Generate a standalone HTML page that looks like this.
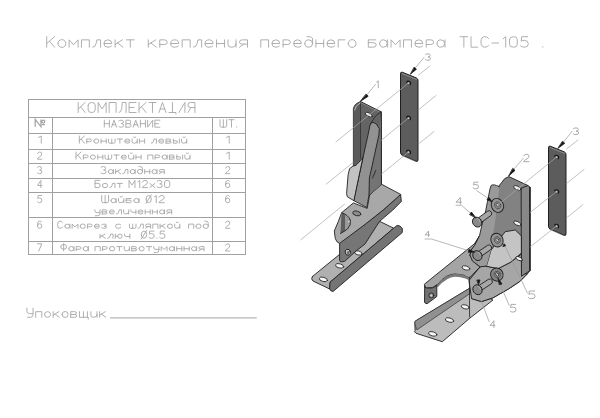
<!DOCTYPE html>
<html><head><meta charset="utf-8">
<style>
html,body{margin:0;padding:0;background:#fff;width:600px;height:418px;overflow:hidden}
svg{display:block;filter:blur(0.3px)}
</style></head><body>
<svg width="600" height="418" viewBox="0 0 600 418">
<rect width="600" height="418" fill="#fff"/>
<g stroke="#a0a0a0" stroke-width="1" fill="none" shape-rendering="crispEdges">
<rect x="28.5" y="99.5" width="217" height="155"/>
<path d="M28,117.5H246M28,133.5H246M28,149.5H246M28,163.5H246M28,178.5H246M28,192.5H246M28,217.5H246M28,241.5H246M52.5,117V255M212.5,117V255"/>
</g>
<g fill="none" stroke="#a4a4a4" stroke-width="1.25"><path d="M 35.20,126.80 L 35.20,119.40 L 40.96,126.80 L 40.96,119.40 M 41.92,121.62 A 1.44,1.48 0 1,0 44.80,121.62 A 1.44,1.48 0 1,0 41.92,121.62 M 41.92,124.58 L 44.80,124.58"/></g><g fill="none" stroke="#a6a6a6" stroke-width="0.9" stroke-linecap="round" stroke-linejoin="round">
<path d="M 46.70,36.70 L 46.70,47.20 M 54.55,36.70 L 46.70,43.53 M 49.50,41.22 L 54.55,47.20 M 57.92,43.53 A 3.93,3.68 0 1,0 65.77,43.53 A 3.93,3.68 0 1,0 57.92,43.53 M 69.14,47.20 L 69.14,39.85 L 73.62,44.75 L 78.11,39.85 L 78.11,47.20 M 81.48,47.20 L 81.48,39.85 L 89.33,39.85 L 89.33,47.20 M 92.69,47.20 Q 95.50,47.20 96.06,43.53 L 96.96,39.85 L 100.55,39.85 L 100.55,47.20 M 104.14,43.53 L 111.76,43.53 Q 111.76,39.85 107.84,39.85 Q 103.91,39.85 103.91,43.53 Q 103.91,47.20 107.84,47.20 Q 110.64,47.20 111.54,45.98 M 115.13,39.85 L 115.13,47.20 M 122.42,39.85 L 115.13,44.51 M 117.60,42.91 L 122.98,47.20 M 126.35,39.85 L 134.20,39.85 M 130.27,39.85 L 130.27,47.20"/>
<path d="M 148.30,39.85 L 148.30,47.20 M 155.75,39.85 L 148.30,44.51 M 150.82,42.91 L 156.33,47.20 M 159.77,47.20 L 159.77,39.85 L 164.36,39.85 Q 167.22,39.85 167.22,42.30 Q 167.22,44.51 164.36,44.51 L 159.77,44.51 M 170.89,43.53 L 178.69,43.53 Q 178.69,39.85 174.68,39.85 Q 170.66,39.85 170.66,43.53 Q 170.66,47.20 174.68,47.20 Q 177.54,47.20 178.46,45.98 M 182.13,47.20 L 182.13,39.85 L 190.16,39.85 L 190.16,47.20 M 193.60,47.20 Q 196.47,47.20 197.04,43.53 L 197.96,39.85 L 201.63,39.85 L 201.63,47.20 M 205.30,43.53 L 213.10,43.53 Q 213.10,39.85 209.08,39.85 Q 205.07,39.85 205.07,43.53 Q 205.07,47.20 209.08,47.20 Q 211.95,47.20 212.87,45.98 M 216.54,39.85 L 216.54,47.20 M 216.54,43.53 L 224.56,43.53 M 224.56,39.85 L 224.56,47.20 M 228.00,39.85 L 228.00,44.75 Q 228.00,47.20 231.44,47.20 Q 236.03,47.20 236.03,43.53 M 236.03,39.85 L 236.03,47.20 M 247.50,47.20 L 247.50,39.85 L 242.34,39.85 Q 239.47,39.85 239.47,42.05 Q 239.47,44.14 242.34,44.14 L 247.50,44.14 M 243.49,44.14 L 239.47,47.20"/>
<path d="M 260.80,47.20 L 260.80,39.85 L 268.59,39.85 L 268.59,47.20 M 272.16,43.53 L 279.73,43.53 Q 279.73,39.85 275.83,39.85 Q 271.93,39.85 271.93,43.53 Q 271.93,47.20 275.83,47.20 Q 278.62,47.20 279.51,45.98 M 283.07,47.20 L 283.07,39.85 L 287.52,39.85 Q 290.31,39.85 290.31,42.30 Q 290.31,44.51 287.52,44.51 L 283.07,44.51 M 293.87,43.53 L 301.44,43.53 Q 301.44,39.85 297.54,39.85 Q 293.65,39.85 293.65,43.53 Q 293.65,47.20 297.54,47.20 Q 300.33,47.20 301.22,45.98 M 304.78,43.53 A 3.90,3.68 0 1,0 312.58,43.53 A 3.90,3.68 0 1,0 304.78,43.53 M 312.58,43.53 L 312.58,39.06 Q 312.58,36.70 308.12,36.70 L 307.01,36.70 M 315.92,39.85 L 315.92,47.20 M 315.92,43.53 L 323.71,43.53 M 323.71,39.85 L 323.71,47.20 M 327.27,43.53 L 334.84,43.53 Q 334.84,39.85 330.95,39.85 Q 327.05,39.85 327.05,43.53 Q 327.05,47.20 330.95,47.20 Q 333.73,47.20 334.62,45.98 M 344.87,39.85 L 338.18,39.85 L 338.18,47.20 M 348.21,43.53 A 3.90,3.68 0 1,0 356.00,43.53 A 3.90,3.68 0 1,0 348.21,43.53"/>
<path d="M 375.69,39.85 L 368.30,39.85 L 368.30,47.20 L 372.85,47.20 Q 376.25,47.20 376.25,44.87 Q 376.25,42.67 372.85,42.67 L 368.30,42.67 M 379.66,43.53 A 3.75,3.68 0 1,0 387.16,43.53 A 3.75,3.68 0 1,0 379.66,43.53 M 387.62,39.85 L 387.62,47.20 M 391.03,47.20 L 391.03,39.85 L 395.57,44.75 L 400.12,39.85 L 400.12,47.20 M 403.53,47.20 L 403.53,39.85 L 411.48,39.85 L 411.48,47.20 M 415.12,43.53 L 422.84,43.53 Q 422.84,39.85 418.87,39.85 Q 414.89,39.85 414.89,43.53 Q 414.89,47.20 418.87,47.20 Q 421.71,47.20 422.61,45.98 M 426.25,47.20 L 426.25,39.85 L 430.80,39.85 Q 433.64,39.85 433.64,42.30 Q 433.64,44.51 430.80,44.51 L 426.25,44.51 M 437.05,43.53 A 3.75,3.68 0 1,0 444.55,43.53 A 3.75,3.68 0 1,0 437.05,43.53 M 445.00,39.85 L 445.00,47.20"/>
<path d="M 460.00,36.70 L 467.71,36.70 M 463.86,36.70 L 463.86,47.20 M 471.02,36.70 L 471.02,47.20 L 477.63,47.20 M 488.64,38.48 Q 487.54,36.70 484.79,36.70 Q 480.93,36.70 480.93,41.95 Q 480.93,47.20 484.79,47.20 Q 487.54,47.20 488.64,45.42 M 491.95,43.00 L 498.56,43.00 M 502.96,38.80 L 505.72,36.70 L 505.72,47.20 M 509.57,39.33 L 509.57,44.58 Q 509.57,47.20 513.43,47.20 Q 517.28,47.20 517.28,44.58 L 517.28,39.33 Q 517.28,36.70 513.43,36.70 Q 509.57,36.70 509.57,39.33 M 527.75,36.70 L 521.69,36.70 L 521.14,41.11 Q 522.79,40.38 524.44,40.38 Q 528.30,40.38 528.30,43.84 Q 528.30,47.20 524.44,47.20 Q 521.69,47.20 520.59,45.94"/>
<path d="M 542.60,46.89 L 543.00,46.89"/>
<path d="M 78.20,102.50 L 78.20,112.50 M 85.18,102.50 L 78.20,109.00 M 80.69,106.80 L 85.18,112.50 M 88.17,105.00 L 88.17,110.00 Q 88.17,112.50 91.67,112.50 Q 95.16,112.50 95.16,110.00 L 95.16,105.00 Q 95.16,102.50 91.67,102.50 Q 88.17,102.50 88.17,105.00 M 98.15,112.50 L 98.15,102.50 L 102.14,109.00 L 106.13,102.50 L 106.13,112.50 M 109.12,112.50 L 109.12,102.50 L 116.10,102.50 L 116.10,112.50 M 119.09,112.50 Q 121.29,112.50 121.69,108.50 L 122.29,102.50 L 126.08,102.50 L 126.08,112.50 M 136.05,102.50 L 129.07,102.50 L 129.07,112.50 L 136.05,112.50 M 129.07,107.50 L 134.06,107.50 M 139.04,102.50 L 139.04,112.50 M 146.03,102.50 L 139.04,109.00 M 141.54,106.80 L 146.03,112.50 M 149.02,102.50 L 156.00,102.50 M 152.51,102.50 L 152.51,112.50 M 158.99,112.50 L 162.48,102.50 L 165.97,112.50 M 160.19,109.00 L 164.78,109.00 M 172.46,102.50 L 172.46,112.50 M 168.97,112.50 L 175.95,112.50 L 175.95,114.00 M 178.94,112.50 L 184.93,102.50 L 184.93,112.50 M 194.90,112.50 L 194.90,102.50 L 190.41,102.50 Q 187.92,102.50 187.92,105.00 Q 187.92,107.50 190.41,107.50 L 194.90,107.50 M 190.91,107.50 L 187.92,112.50"/>
<path d="M 104.30,120.20 L 104.30,127.20 M 104.30,123.70 L 109.35,123.70 M 109.35,120.20 L 109.35,127.20 M 111.52,127.20 L 114.05,120.20 L 116.58,127.20 M 112.39,124.75 L 115.71,124.75 M 118.74,120.90 Q 119.46,120.20 121.27,120.20 Q 123.44,120.20 123.44,121.95 Q 123.44,123.56 121.27,123.56 Q 123.80,123.56 123.80,125.38 Q 123.80,127.20 121.27,127.20 Q 119.46,127.20 118.74,126.50 M 125.96,127.20 L 125.96,120.20 L 129.21,120.20 Q 130.66,120.20 130.66,121.95 Q 130.66,123.70 129.21,123.70 L 125.96,123.70 M 129.21,123.70 Q 131.02,123.70 131.02,125.45 Q 131.02,127.20 129.21,127.20 L 125.96,127.20 M 133.18,127.20 L 135.71,120.20 L 138.24,127.20 M 134.05,124.75 L 137.37,124.75 M 140.40,120.20 L 140.40,127.20 M 140.40,123.70 L 145.46,123.70 M 145.46,120.20 L 145.46,127.20 M 147.62,120.20 L 147.62,127.20 L 152.68,120.20 L 152.68,127.20 M 159.90,120.20 L 154.85,120.20 L 154.85,127.20 L 159.90,127.20 M 154.85,123.70 L 158.46,123.70"/>
<path d="M 220.00,119.70 L 220.00,125.70 Q 220.00,127.20 221.48,127.20 L 225.17,127.20 Q 226.65,127.20 226.65,125.70 L 226.65,119.70 M 223.33,119.70 L 223.33,127.20 M 228.87,119.70 L 234.04,119.70 M 231.46,119.70 L 231.46,127.20 M 236.48,126.98 L 236.78,126.98"/>
<path d="M 79.30,136.00 L 79.30,143.20 M 84.47,136.00 L 79.30,140.68 M 81.15,139.10 L 84.47,143.20 M 86.68,143.20 L 86.68,139.02 L 89.63,139.02 Q 91.48,139.02 91.48,140.42 Q 91.48,141.67 89.63,141.67 L 86.68,141.67 M 93.69,141.11 A 2.58,2.09 0 1,0 98.86,141.11 A 2.58,2.09 0 1,0 93.69,141.11 M 101.08,139.02 L 101.08,143.20 M 101.08,141.11 L 106.24,141.11 M 106.24,139.02 L 106.24,143.20 M 108.46,139.02 L 108.46,141.81 Q 108.46,143.20 109.93,143.20 L 113.62,143.20 Q 115.10,143.20 115.10,141.81 L 115.10,139.02 M 111.78,139.02 L 111.78,143.20 M 117.31,139.02 L 122.48,139.02 M 119.90,139.02 L 119.90,143.20 M 124.84,141.11 L 129.86,141.11 Q 129.86,139.02 127.28,139.02 Q 124.70,139.02 124.70,141.11 Q 124.70,143.20 127.28,143.20 Q 129.12,143.20 129.72,142.50 M 132.08,139.02 L 132.08,141.81 Q 132.08,143.20 134.29,143.20 Q 137.24,143.20 137.24,141.11 M 137.24,139.02 L 137.24,143.20 M 133.55,137.13 Q 134.66,138.27 135.77,137.13 M 139.46,139.02 L 139.46,143.20 M 139.46,141.11 L 144.63,141.11 M 144.63,139.02 L 144.63,143.20 M 151.27,143.20 Q 153.11,143.20 153.48,141.11 L 154.07,139.02 L 156.44,139.02 L 156.44,143.20 M 158.80,141.11 L 163.82,141.11 Q 163.82,139.02 161.23,139.02 Q 158.65,139.02 158.65,141.11 Q 158.65,143.20 161.23,143.20 Q 163.08,143.20 163.67,142.50 M 166.03,143.20 L 166.03,139.02 L 169.35,139.02 Q 170.83,139.02 170.83,140.07 Q 170.83,141.11 169.35,141.11 L 166.03,141.11 M 169.35,141.11 Q 171.20,141.11 171.20,142.16 Q 171.20,143.20 169.35,143.20 L 166.03,143.20 M 173.41,139.02 L 173.41,143.20 L 176.00,143.20 Q 177.47,143.20 177.47,141.95 Q 177.47,140.76 176.00,140.76 L 173.41,140.76 M 179.32,139.02 L 179.32,143.20 M 181.53,139.02 L 181.53,141.81 Q 181.53,143.20 183.75,143.20 Q 186.70,143.20 186.70,141.11 M 186.70,139.02 L 186.70,143.20 M 183.01,137.13 Q 184.12,138.27 185.22,137.13"/>
<path d="M 76.00,152.00 L 76.00,159.20 M 81.15,152.00 L 76.00,156.68 M 77.84,155.10 L 81.15,159.20 M 83.35,159.20 L 83.35,155.02 L 86.30,155.02 Q 88.14,155.02 88.14,156.42 Q 88.14,157.67 86.30,157.67 L 83.35,157.67 M 90.34,157.11 A 2.57,2.09 0 1,0 95.49,157.11 A 2.57,2.09 0 1,0 90.34,157.11 M 97.70,155.02 L 97.70,159.20 M 97.70,157.11 L 102.85,157.11 M 102.85,155.02 L 102.85,159.20 M 105.05,155.02 L 105.05,157.81 Q 105.05,159.20 106.52,159.20 L 110.20,159.20 Q 111.67,159.20 111.67,157.81 L 111.67,155.02 M 108.36,155.02 L 108.36,159.20 M 113.88,155.02 L 119.03,155.02 M 116.45,155.02 L 116.45,159.20 M 121.38,157.11 L 126.38,157.11 Q 126.38,155.02 123.81,155.02 Q 121.23,155.02 121.23,157.11 Q 121.23,159.20 123.81,159.20 Q 125.65,159.20 126.23,158.50 M 128.59,155.02 L 128.59,157.81 Q 128.59,159.20 130.79,159.20 Q 133.74,159.20 133.74,157.11 M 133.74,155.02 L 133.74,159.20 M 130.06,153.13 Q 131.16,154.27 132.26,153.13 M 135.94,155.02 L 135.94,159.20 M 135.94,157.11 L 141.09,157.11 M 141.09,155.02 L 141.09,159.20 M 147.71,159.20 L 147.71,155.02 L 152.86,155.02 L 152.86,159.20 M 155.06,159.20 L 155.06,155.02 L 158.01,155.02 Q 159.85,155.02 159.85,156.42 Q 159.85,157.67 158.01,157.67 L 155.06,157.67 M 162.05,157.11 A 2.43,2.09 0 1,0 166.91,157.11 A 2.43,2.09 0 1,0 162.05,157.11 M 167.20,155.02 L 167.20,159.20 M 169.41,159.20 L 169.41,155.02 L 172.72,155.02 Q 174.19,155.02 174.19,156.07 Q 174.19,157.11 172.72,157.11 L 169.41,157.11 M 172.72,157.11 Q 174.55,157.11 174.55,158.16 Q 174.55,159.20 172.72,159.20 L 169.41,159.20 M 176.76,155.02 L 176.76,159.20 L 179.34,159.20 Q 180.81,159.20 180.81,157.95 Q 180.81,156.76 179.34,156.76 L 176.76,156.76 M 182.65,155.02 L 182.65,159.20 M 184.85,155.02 L 184.85,157.81 Q 184.85,159.20 187.06,159.20 Q 190.00,159.20 190.00,157.11 M 190.00,155.02 L 190.00,159.20 M 186.32,153.13 Q 187.43,154.27 188.53,153.13"/>
<path d="M 101.00,167.22 Q 101.73,166.50 103.55,166.50 Q 105.73,166.50 105.73,168.30 Q 105.73,169.96 103.55,169.96 Q 106.09,169.96 106.09,171.83 Q 106.09,173.70 103.55,173.70 Q 101.73,173.70 101.00,172.98 M 108.28,171.61 A 2.40,2.09 0 1,0 113.08,171.61 A 2.40,2.09 0 1,0 108.28,171.61 M 113.37,169.52 L 113.37,173.70 M 115.55,169.52 L 115.55,173.70 M 120.28,169.52 L 115.55,172.17 M 117.15,171.26 L 120.64,173.70 M 122.83,173.70 Q 124.65,173.70 125.01,171.61 L 125.59,169.52 L 127.92,169.52 L 127.92,173.70 M 130.10,171.61 A 2.40,2.09 0 1,0 134.91,171.61 A 2.40,2.09 0 1,0 130.10,171.61 M 135.20,169.52 L 135.20,173.70 M 137.38,171.61 A 2.55,2.09 0 1,0 142.47,171.61 A 2.55,2.09 0 1,0 137.38,171.61 M 142.47,171.61 L 142.47,168.77 Q 142.47,166.50 139.56,166.50 L 138.83,166.50 M 144.66,169.52 L 144.66,173.70 M 144.66,171.61 L 149.75,171.61 M 149.75,169.52 L 149.75,173.70 M 151.93,171.61 A 2.40,2.09 0 1,0 156.73,171.61 A 2.40,2.09 0 1,0 151.93,171.61 M 157.02,169.52 L 157.02,173.70 M 164.30,173.70 L 164.30,169.52 L 161.03,169.52 Q 159.21,169.52 159.21,170.78 Q 159.21,171.96 161.03,171.96 L 164.30,171.96 M 161.75,171.96 L 159.21,173.70"/>
<path d="M 99.81,180.40 L 95.00,180.40 L 95.00,187.60 L 97.96,187.60 Q 100.18,187.60 100.18,185.44 Q 100.18,183.28 97.96,183.28 L 95.00,183.28 M 102.40,185.51 A 2.59,2.09 0 1,0 107.57,185.51 A 2.59,2.09 0 1,0 102.40,185.51 M 109.79,187.60 Q 111.64,187.60 112.01,185.51 L 112.60,183.42 L 114.97,183.42 L 114.97,187.60 M 117.19,183.42 L 122.37,183.42 M 119.78,183.42 L 119.78,187.60 M 129.02,187.60 L 129.02,180.40 L 131.98,185.08 L 134.94,180.40 L 134.94,187.60 M 137.90,181.84 L 139.75,180.40 L 139.75,187.60 M 142.48,181.98 Q 143.07,180.40 144.92,180.40 Q 147.51,180.40 147.51,182.42 Q 147.51,184.00 144.55,185.44 Q 142.33,186.52 142.33,187.60 L 147.51,187.60 M 149.73,183.42 L 154.91,187.60 M 154.91,183.42 L 149.73,187.60 M 157.13,181.12 Q 157.87,180.40 159.72,180.40 Q 161.93,180.40 161.93,182.20 Q 161.93,183.86 159.72,183.86 Q 162.30,183.86 162.30,185.73 Q 162.30,187.60 159.72,187.60 Q 157.87,187.60 157.13,186.88 M 164.52,182.20 L 164.52,185.80 Q 164.52,187.60 167.11,187.60 Q 169.70,187.60 169.70,185.80 L 169.70,182.20 Q 169.70,180.40 167.11,180.40 Q 164.52,180.40 164.52,182.20"/>
<path d="M 101.70,195.50 L 101.70,201.26 Q 101.70,202.70 103.23,202.70 L 107.04,202.70 Q 108.57,202.70 108.57,201.26 L 108.57,195.50 M 105.14,195.50 L 105.14,202.70 M 110.86,200.61 A 2.52,2.09 0 1,0 115.90,200.61 A 2.52,2.09 0 1,0 110.86,200.61 M 116.20,198.52 L 116.20,202.70 M 118.50,198.52 L 118.50,201.31 Q 118.50,202.70 120.79,202.70 Q 123.84,202.70 123.84,200.61 M 123.84,198.52 L 123.84,202.70 M 120.02,196.63 Q 121.17,197.77 122.31,196.63 M 131.09,198.52 L 126.13,198.52 L 126.13,202.70 L 129.18,202.70 Q 131.47,202.70 131.47,201.38 Q 131.47,200.12 129.18,200.12 L 126.13,200.12 M 133.76,200.61 A 2.52,2.09 0 1,0 138.80,200.61 A 2.52,2.09 0 1,0 133.76,200.61 M 139.11,198.52 L 139.11,202.70 M 145.98,199.10 A 2.67,3.60 0 1,0 151.32,199.10 A 2.67,3.60 0 1,0 145.98,199.10 M 145.98,203.42 L 151.32,194.78 M 154.38,196.94 L 156.28,195.50 L 156.28,202.70 M 159.11,197.08 Q 159.72,195.50 161.63,195.50 Q 164.30,195.50 164.30,197.52 Q 164.30,199.10 161.25,200.54 Q 158.96,201.62 158.96,202.70 L 164.30,202.70"/>
<path d="M 95.00,209.82 L 95.00,211.22 Q 95.00,212.61 97.15,212.61 L 100.02,212.61 M 100.02,209.82 L 100.02,213.65 Q 100.02,215.74 97.51,215.74 L 95.36,215.74 M 102.17,214.00 L 102.17,209.82 L 105.39,209.82 Q 106.83,209.82 106.83,210.87 Q 106.83,211.91 105.39,211.91 L 102.17,211.91 M 105.39,211.91 Q 107.19,211.91 107.19,212.96 Q 107.19,214.00 105.39,214.00 L 102.17,214.00 M 109.48,211.91 L 114.35,211.91 Q 114.35,209.82 111.85,209.82 Q 109.34,209.82 109.34,211.91 Q 109.34,214.00 111.85,214.00 Q 113.64,214.00 114.21,213.30 M 116.50,214.00 Q 118.30,214.00 118.66,211.91 L 119.23,209.82 L 121.52,209.82 L 121.52,214.00 M 123.67,209.82 L 123.67,212.61 Q 123.67,214.00 125.82,214.00 Q 128.69,214.00 128.69,211.91 M 128.69,209.82 L 128.69,214.00 M 130.84,209.82 L 130.84,210.87 Q 130.84,212.26 132.99,212.26 L 135.86,212.26 M 135.86,209.82 L 135.86,214.00 M 138.15,211.91 L 143.03,211.91 Q 143.03,209.82 140.52,209.82 Q 138.01,209.82 138.01,211.91 Q 138.01,214.00 140.52,214.00 Q 142.31,214.00 142.88,213.30 M 145.18,209.82 L 145.18,214.00 M 145.18,211.91 L 150.20,211.91 M 150.20,209.82 L 150.20,214.00 M 152.35,209.82 L 152.35,214.00 M 152.35,211.91 L 157.36,211.91 M 157.36,209.82 L 157.36,214.00 M 159.51,211.91 A 2.37,2.09 0 1,0 164.25,211.91 A 2.37,2.09 0 1,0 159.51,211.91 M 164.53,209.82 L 164.53,214.00 M 171.70,214.00 L 171.70,209.82 L 168.47,209.82 Q 166.68,209.82 166.68,211.08 Q 166.68,212.26 168.47,212.26 L 171.70,212.26 M 169.19,212.26 L 166.68,214.00"/>
<path d="M 62.61,222.32 Q 61.88,221.10 60.06,221.10 Q 57.50,221.10 57.50,224.70 Q 57.50,228.30 60.06,228.30 Q 61.88,228.30 62.61,227.08 M 64.80,226.21 A 2.41,2.09 0 1,0 69.62,226.21 A 2.41,2.09 0 1,0 64.80,226.21 M 69.91,224.12 L 69.91,228.30 M 72.11,228.30 L 72.11,224.12 L 75.03,226.91 L 77.95,224.12 L 77.95,228.30 M 80.14,226.21 A 2.56,2.09 0 1,0 85.25,226.21 A 2.56,2.09 0 1,0 80.14,226.21 M 87.44,228.30 L 87.44,224.12 L 90.36,224.12 Q 92.19,224.12 92.19,225.52 Q 92.19,226.77 90.36,226.77 L 87.44,226.77 M 94.52,226.21 L 99.49,226.21 Q 99.49,224.12 96.93,224.12 Q 94.38,224.12 94.38,226.21 Q 94.38,228.30 96.93,228.30 Q 98.76,228.30 99.34,227.60 M 101.68,224.82 Q 102.41,224.12 104.24,224.12 Q 106.43,224.12 106.43,225.17 Q 106.43,226.21 104.24,226.21 Q 106.79,226.21 106.79,227.26 Q 106.79,228.30 104.24,228.30 Q 102.41,228.30 101.68,227.60 M 120.67,224.82 Q 119.94,224.12 118.11,224.12 Q 115.56,224.12 115.56,226.21 Q 115.56,228.30 118.11,228.30 Q 119.94,228.30 120.67,227.60 M 129.43,224.12 L 129.43,226.91 Q 129.43,228.30 130.89,228.30 L 134.54,228.30 Q 136.00,228.30 136.00,226.91 L 136.00,224.12 M 132.72,224.12 L 132.72,228.30 M 138.19,228.30 Q 140.02,228.30 140.39,226.21 L 140.97,224.12 L 143.31,224.12 L 143.31,228.30 M 150.61,228.30 L 150.61,224.12 L 147.32,224.12 Q 145.50,224.12 145.50,225.38 Q 145.50,226.56 147.32,226.56 L 150.61,226.56 M 148.05,226.56 L 145.50,228.30 M 152.80,228.30 L 152.80,224.12 L 157.91,224.12 L 157.91,228.30 M 160.10,224.12 L 160.10,228.30 M 164.85,224.12 L 160.10,226.77 M 161.71,225.86 L 165.21,228.30 M 167.41,226.21 A 2.56,2.09 0 1,0 172.52,226.21 A 2.56,2.09 0 1,0 167.41,226.21 M 174.71,224.12 L 174.71,226.91 Q 174.71,228.30 176.90,228.30 Q 179.82,228.30 179.82,226.21 M 179.82,224.12 L 179.82,228.30 M 176.17,222.23 Q 177.26,223.37 178.36,222.23 M 188.58,228.30 L 188.58,224.12 L 193.69,224.12 L 193.69,228.30 M 195.89,226.21 A 2.56,2.09 0 1,0 201.00,226.21 A 2.56,2.09 0 1,0 195.89,226.21 M 203.19,226.21 A 2.56,2.09 0 1,0 208.30,226.21 A 2.56,2.09 0 1,0 203.19,226.21 M 208.30,226.21 L 208.30,223.37 Q 208.30,221.10 205.38,221.10 L 204.65,221.10"/>
<path d="M 100.00,234.12 L 100.00,238.30 M 104.97,234.12 L 100.00,236.77 M 101.68,235.86 L 105.35,238.30 M 107.65,238.30 Q 109.56,238.30 109.94,236.21 L 110.55,234.12 L 113.00,234.12 L 113.00,238.30 M 115.29,234.12 L 115.29,238.30 M 115.29,236.21 L 117.21,236.21 M 117.59,236.21 A 2.29,2.09 0 1,0 122.18,236.21 A 2.29,2.09 0 1,0 117.59,236.21 M 124.47,234.12 L 124.47,235.17 Q 124.47,236.56 126.76,236.56 L 129.82,236.56 M 129.82,234.12 L 129.82,238.30 M 141.29,234.70 A 2.68,3.60 0 1,0 146.65,234.70 A 2.68,3.60 0 1,0 141.29,234.70 M 141.29,239.02 L 146.65,230.38 M 153.91,231.10 L 149.71,231.10 L 149.32,234.12 Q 150.47,233.62 151.62,233.62 Q 154.29,233.62 154.29,236.00 Q 154.29,238.30 151.62,238.30 Q 149.71,238.30 148.94,237.44 M 156.82,238.08 L 157.12,238.08 M 164.62,231.10 L 160.41,231.10 L 160.03,234.12 Q 161.18,233.62 162.32,233.62 Q 165.00,233.62 165.00,236.00 Q 165.00,238.30 162.32,238.30 Q 160.41,238.30 159.65,237.44"/>
<path d="M 60.70,246.84 A 2.95,2.38 0 1,0 66.61,246.84 A 2.95,2.38 0 1,0 60.70,246.84 M 63.65,243.60 L 63.65,250.80 M 68.83,248.71 A 2.44,2.09 0 1,0 73.70,248.71 A 2.44,2.09 0 1,0 68.83,248.71 M 74.00,246.62 L 74.00,250.80 M 76.21,250.80 L 76.21,246.62 L 79.17,246.62 Q 81.01,246.62 81.01,248.02 Q 81.01,249.27 79.17,249.27 L 76.21,249.27 M 83.23,248.71 A 2.44,2.09 0 1,0 88.10,248.71 A 2.44,2.09 0 1,0 83.23,248.71 M 88.40,246.62 L 88.40,250.80 M 95.05,250.80 L 95.05,246.62 L 100.22,246.62 L 100.22,250.80 M 102.43,250.80 L 102.43,246.62 L 105.39,246.62 Q 107.24,246.62 107.24,248.02 Q 107.24,249.27 105.39,249.27 L 102.43,249.27 M 109.45,248.71 A 2.59,2.09 0 1,0 114.62,248.71 A 2.59,2.09 0 1,0 109.45,248.71 M 116.84,246.62 L 122.01,246.62 M 119.42,246.62 L 119.42,250.80 M 124.22,246.62 L 124.22,249.41 Q 124.22,250.80 126.44,250.80 Q 129.40,250.80 129.40,248.71 M 129.40,246.62 L 129.40,250.80 M 131.61,250.80 L 131.61,246.62 L 134.94,246.62 Q 136.41,246.62 136.41,247.67 Q 136.41,248.71 134.94,248.71 L 131.61,248.71 M 134.94,248.71 Q 136.78,248.71 136.78,249.76 Q 136.78,250.80 134.94,250.80 L 131.61,250.80 M 139.00,248.71 A 2.59,2.09 0 1,0 144.17,248.71 A 2.59,2.09 0 1,0 139.00,248.71 M 146.38,246.62 L 151.56,246.62 M 148.97,246.62 L 148.97,250.80 M 153.77,246.62 L 153.77,248.02 Q 153.77,249.41 155.99,249.41 L 158.94,249.41 M 158.94,246.62 L 158.94,250.45 Q 158.94,252.54 156.36,252.54 L 154.14,252.54 M 161.16,250.80 L 161.16,246.62 L 164.11,249.41 L 167.07,246.62 L 167.07,250.80 M 169.28,248.71 A 2.44,2.09 0 1,0 174.16,248.71 A 2.44,2.09 0 1,0 169.28,248.71 M 174.45,246.62 L 174.45,250.80 M 176.67,246.62 L 176.67,250.80 M 176.67,248.71 L 181.84,248.71 M 181.84,246.62 L 181.84,250.80 M 184.06,246.62 L 184.06,250.80 M 184.06,248.71 L 189.23,248.71 M 189.23,246.62 L 189.23,250.80 M 191.44,248.71 A 2.44,2.09 0 1,0 196.32,248.71 A 2.44,2.09 0 1,0 191.44,248.71 M 196.61,246.62 L 196.61,250.80 M 204.00,250.80 L 204.00,246.62 L 200.68,246.62 Q 198.83,246.62 198.83,247.88 Q 198.83,249.06 200.68,249.06 L 204.00,249.06 M 201.41,249.06 L 198.83,250.80"/>
<path d="M 38.58,137.44 L 41.26,136.00 L 41.26,143.20"/>
<path d="M 37.62,153.58 Q 38.11,152.00 39.65,152.00 Q 41.80,152.00 41.80,154.02 Q 41.80,155.60 39.34,157.04 Q 37.50,158.12 37.50,159.20 L 41.80,159.20"/>
<path d="M 37.50,167.22 Q 38.11,166.50 39.65,166.50 Q 41.49,166.50 41.49,168.30 Q 41.49,169.96 39.65,169.96 Q 41.80,169.96 41.80,171.83 Q 41.80,173.70 39.65,173.70 Q 38.11,173.70 37.50,172.98"/>
<path d="M 40.88,187.60 L 40.88,180.40 L 37.50,185.44 L 41.80,185.44"/>
<path d="M 41.49,195.50 L 38.11,195.50 L 37.81,198.52 Q 38.73,198.02 39.65,198.02 Q 41.80,198.02 41.80,200.40 Q 41.80,202.70 39.65,202.70 Q 38.11,202.70 37.50,201.84"/>
<path d="M 41.49,221.82 Q 40.88,221.10 39.65,221.10 Q 37.50,221.10 37.50,224.70 L 37.50,226.00 Q 37.50,228.30 39.65,228.30 Q 41.80,228.30 41.80,226.00 Q 41.80,223.76 39.65,223.76 Q 37.50,223.76 37.50,225.78"/>
<path d="M 37.50,243.80 L 41.80,243.80 L 38.73,251.00"/>
<path d="M 226.57,137.44 L 229.26,136.00 L 229.26,143.20"/>
<path d="M 226.57,153.44 L 229.26,152.00 L 229.26,159.20"/>
<path d="M 225.62,168.08 Q 226.11,166.50 227.65,166.50 Q 229.80,166.50 229.80,168.52 Q 229.80,170.10 227.34,171.54 Q 225.50,172.62 225.50,173.70 L 229.80,173.70"/>
<path d="M 229.49,181.12 Q 228.88,180.40 227.65,180.40 Q 225.50,180.40 225.50,184.00 L 225.50,185.30 Q 225.50,187.60 227.65,187.60 Q 229.80,187.60 229.80,185.30 Q 229.80,183.06 227.65,183.06 Q 225.50,183.06 225.50,185.08"/>
<path d="M 229.49,196.22 Q 228.88,195.50 227.65,195.50 Q 225.50,195.50 225.50,199.10 L 225.50,200.40 Q 225.50,202.70 227.65,202.70 Q 229.80,202.70 229.80,200.40 Q 229.80,198.16 227.65,198.16 Q 225.50,198.16 225.50,200.18"/>
<path d="M 225.62,222.68 Q 226.11,221.10 227.65,221.10 Q 229.80,221.10 229.80,223.12 Q 229.80,224.70 227.34,226.14 Q 225.50,227.22 225.50,228.30 L 229.80,228.30"/>
<path d="M 225.62,245.38 Q 226.11,243.80 227.65,243.80 Q 229.80,243.80 229.80,245.82 Q 229.80,247.40 227.34,248.84 Q 225.50,249.92 225.50,251.00 L 229.80,251.00"/>
<path d="M 26.90,308.20 L 26.90,310.93 Q 26.90,313.66 29.53,313.66 L 33.04,313.66 M 33.04,308.20 L 33.04,314.57 Q 33.04,317.30 30.41,317.30 L 27.78,317.30 M 35.67,317.30 L 35.67,311.66 L 41.80,311.66 L 41.80,317.30 M 44.43,314.48 A 3.07,2.82 0 1,0 50.57,314.48 A 3.07,2.82 0 1,0 44.43,314.48 M 53.20,311.66 L 53.20,317.30 M 58.90,311.66 L 53.20,315.23 M 55.13,314.01 L 59.34,317.30 M 61.97,314.48 A 3.07,2.82 0 1,0 68.10,314.48 A 3.07,2.82 0 1,0 61.97,314.48 M 70.73,317.30 L 70.73,311.66 L 74.68,311.66 Q 76.43,311.66 76.43,313.07 Q 76.43,314.48 74.68,314.48 L 70.73,314.48 M 74.68,314.48 Q 76.87,314.48 76.87,315.89 Q 76.87,317.30 74.68,317.30 L 70.73,317.30 M 79.50,311.66 L 79.50,317.30 L 87.39,317.30 L 87.39,311.66 M 83.44,311.66 L 83.44,317.30 M 87.39,317.30 L 88.27,317.30 L 88.27,319.18 M 90.90,311.66 L 90.90,315.42 Q 90.90,317.30 93.53,317.30 Q 97.03,317.30 97.03,314.48 M 97.03,311.66 L 97.03,317.30 M 99.66,311.66 L 99.66,317.30 M 105.36,311.66 L 99.66,315.23 M 101.59,314.01 L 105.80,317.30"/>
</g>
<line x1="110" y1="317.8" x2="256.7" y2="317.8" stroke="#b6b6b6" stroke-width="1.3"/>
<!-- DRAWING -->
<defs>
<linearGradient id="gPlate" x1="0" y1="0" x2="1" y2="1"><stop offset="0" stop-color="#5a5a5a"/><stop offset="1" stop-color="#616161"/></linearGradient>
</defs>
<g stroke="#202020" stroke-width="0.9" stroke-linejoin="round" stroke-linecap="round">
<!-- ===== BRACKET 1 ===== -->
<!-- channel -->
<path d="M312.4,276.5 L380,221.5 L393.7,228.2 L330,282.5 L329.7,289 L313,281 Q310.5,279 312.4,276.5 Z" fill="#b0b0b0"/>
<path d="M393.7,228.2 L397,225.5 Q400,224.8 402.3,228.5 L402.3,232.5 L333,291.5 Q330,291 329.7,289 L330,282.5 Z" fill="#747474"/>
<g fill="#f6f6f6" stroke-width="0.8">
<ellipse cx="323.4" cy="279.4" rx="4.2" ry="2.1" transform="rotate(15 323.4 279.4)"/>
<ellipse cx="339.6" cy="265.9" rx="4.2" ry="2.1" transform="rotate(15 339.6 265.9)"/>
<ellipse cx="358.4" cy="253" rx="3.8" ry="2" transform="rotate(15 358.4 253)"/>
</g>
<!-- gusset + flange thickness -->
<path d="M339.6,243.4 L339.6,260.6 Q340,262 341.5,261.8 L344.5,261.5 L356,251 L365,244 L379.4,221.5 L392.8,210 L401.3,201.5 L400.7,194.4 L383.2,210 L365,224.4 Z" fill="#767676"/>
<ellipse cx="347.8" cy="252.2" rx="2.6" ry="3" transform="rotate(-20 347.8 252.2)" fill="#c8c8c8" stroke-width="0.9"/>
<ellipse cx="348.1" cy="252.6" rx="1.2" ry="1.6" fill="#6a6a6a" stroke="none"/>
<!-- flange top face -->
<path d="M342,212.4 L353.4,202.9 L367.2,208.4 L369.6,195 L381.5,184.2 L400.7,194.4 L383.2,210 L365,224.4 L339.6,243.4 Q336.5,242.5 335.3,238.6 L334.3,231 L338.1,222 Z" fill="#a8a8a8"/>
<path d="M341.5,212.5 Q348,214.5 350.3,220 Q351.5,225 347.5,229 Q344,231.5 340.5,233.5 L341.5,222 Z" fill="#9a9a9a" stroke="none"/><path d="M341.5,213 L345,214.5 L345,231 L340.5,233.5 Z" fill="#5e5e5e" stroke="none"/><path d="M341.5,212.8 Q348,214.5 350.3,220 Q351.5,225 347.5,229 Q344,231.5 340.5,233.5" fill="none" stroke-width="0.9"/><circle cx="348.8" cy="221.8" r="0.8" fill="#f0f0f0" stroke="none"/>
<ellipse cx="356.8" cy="213.4" rx="4.2" ry="2.3" transform="rotate(15 356.8 213.4)" fill="#8c8c8c" stroke-width="0.8"/>
<!-- upright -->
<path d="M353.4,190 L353.4,108.4 Q355,103 360.9,101.7 L381,111.7 L381.4,184.2 L369.6,195 Z" fill="#646464"/>
<path d="M353.4,108.4 Q355,103 360.9,101.7 L360.5,104 L360.5,160 L353.4,166 Z" fill="#5a5a5a" stroke="none"/>
<path d="M354.6,110 Q355.8,105 359.8,103.2" fill="none" stroke="#d8d8d8" stroke-width="0.8"/>
<path d="M361.5,103 L380,112.2" fill="none" stroke="#a0a0a0" stroke-width="0.5"/>
<line x1="360.5" y1="104" x2="360.5" y2="158" stroke-width="0.6"/>
<path d="M381,112.5 L381.4,184.2 L369.6,195 L369.4,178 L378.9,135 L379.3,128.5 Z" fill="#747474" stroke="none"/>
<path d="M381,111.7 Q375,115 372.2,121 L370.1,125.1" fill="none" stroke-width="0.8"/>
<path d="M381.4,112 L381.4,184.2" fill="none"/>
<!-- diagonal piece -->
<path d="M370.1,125.1 Q371,122.6 373,122.3 Q376.5,122.5 379.3,128.5 L378.9,135 L369.4,178 L369,195 L366.8,207.5 L353.6,200.5 L368,135 Z" fill="#929292"/>
<ellipse cx="368.8" cy="114.7" rx="3.9" ry="1.7" transform="rotate(28 368.8 114.7)" fill="#f0f0f0" stroke-width="0.8"/>
<line x1="372.5" y1="178" x2="375.8" y2="170.5" stroke-width="0.8"/>
<!-- wing -->
<path d="M362.6,158 L357.5,163.8 L355.8,165.4 L353,166 L349.6,168.6 L348.1,174.9 L346.6,193.5 L347.3,196.7 L353.6,200.5 Z" fill="#c2c2c2"/>

<!-- ===== BRACKET 2 ===== -->
<!-- lower channel -->
<path d="M414.8,323.7 Q414,321 417,320 L470,288 L493,300 L470,318 L442.3,341.7 L416,333.3 Q413.5,331.5 414.8,330.9 Z" fill="#bcbcbc"/>
<path d="M414.8,323.7 Q414,321 417,320 L470,288 L470,293.5 L417.2,329.7 Z" fill="#909090" stroke-width="0.6"/>
<g fill="#f6f6f6" stroke-width="0.8">
<ellipse cx="432.7" cy="333.9" rx="4.3" ry="2.1" transform="rotate(15 432.7 333.9)"/>
<ellipse cx="449.5" cy="320.1" rx="4.3" ry="2.1" transform="rotate(15 449.5 320.1)"/>
<ellipse cx="465.2" cy="306.9" rx="4" ry="2" transform="rotate(15 465.2 306.9)"/>
</g>
<!-- upright 2 body (front face) -->
<path d="M498.5,186.5 L501.9,182.2 Q504,178 508.9,176.6 L528.1,185.6 L529.9,187.5 L529.9,270.6 L527.4,273.8 L519.8,281.5 L508.3,289.1 L493,297.8 L481.5,301.6 L471.9,298.7 L469.2,280.2 L476,262 L484,240 L490,215 L494,195 Z" fill="#828282" stroke="none"/>
<path d="M498.5,186.5 L501.9,182.2 Q504,178 508.9,176.6 L528.1,185.6 L529.9,187.5 L529.9,270.6 L527.4,273.8 L519.8,281.5 L508.3,289.1 L493,297.8 L481.5,301.6 L471.9,298.7" fill="none"/>
<!-- wall lower face -->
<path d="M469.2,280.2 L480.1,266.8 L486,266 L498.5,268.4 L511,262 L521.5,254 L522,274 L527.4,273.8 L519.8,281.5 L508.3,289.1 L493,297.8 L481.5,301.6 L471.9,298.7 Z" fill="#a6a6a6"/>
<!-- light inner face -->
<path d="M486.5,266 L491,250.2 L505.2,231.7 L515.3,230 L521.5,236 L521.5,253 L511,262 L498.5,268.4 Z" fill="#c4c4c4"/>
<!-- right strip -->
<path d="M521.5,188 L528.1,185.6 L529.9,187.5 L529.9,270.6 L521.8,276 Z" fill="#888888"/><path d="M529.9,187.5 L529.9,270.6" stroke-width="1.4" fill="none"/>
<g fill="#f4f4f4" stroke-width="0.8">
<ellipse cx="517.3" cy="188" rx="4" ry="1.8" transform="rotate(25 517.3 188)"/>
<ellipse cx="517.3" cy="223.4" rx="4" ry="1.8" transform="rotate(25 517.3 223.4)"/>
<ellipse cx="519.1" cy="258.7" rx="3.6" ry="1.7" transform="rotate(25 519.1 258.7)"/>
</g>
<!-- upper prong -->
<path d="M424.6,284 L474.4,243.8 L479.5,235.8 L474.7,245.3 L471.1,250.1 L470,255.2 L472.5,261 L480.1,266.8 L469.4,278 Q464,274 455,274 Q446,274 438,284 Q433,289 426.5,288 Q424.3,287.5 424.6,286 Z" fill="#a4a4a4"/>
<path d="M436.8,285.3 Q446,274 455,274 Q464,274 469.4,278 L469.4,280.5 Q463,276.8 455,276.8 Q447,276.8 437.5,287.5 Z" fill="#7a7a7a" stroke="none"/>
<path d="M424.6,286 Q424.3,287.5 426.5,288 Q433,289 436.8,285.3 L436.8,296.5 L427.5,303.5 Q425,304 424.6,302.5 Z" fill="#727272"/>
<circle cx="431.3" cy="295.4" r="2.5" fill="#8a8a8a" stroke-width="0.8"/>
<circle cx="431.3" cy="295.4" r="1" fill="#d8d8d8" stroke="none"/>
<ellipse cx="465.9" cy="268" rx="4" ry="2" transform="rotate(15 465.9 268)" fill="#f4f4f4" stroke-width="0.8"/>
<line x1="469.4" y1="277" x2="469.6" y2="317" stroke-width="0.8"/>
<!-- gusset 2 -->
<path d="M491,185.6 Q493,184 498.3,186.4 L499.4,186.7 L496,215 L491,250.2 L486.5,266 L480.1,266.8 L472.5,261 L470,255.2 L471.1,250.1 L474.7,245.3 L479.5,235.8 L481.9,225 L485.7,210.9 L487.5,201.3 L489.9,189.4 Z" fill="#9a9a9a" stroke="none"/>
<path d="M499.4,186.7 Q493,183.5 491,185.6 L489.9,189.4 L487.5,201.3 L485.7,210.9 L481.9,225 L479.5,235.8 L474.7,245.3 L471.1,250.1 L470,255.2" fill="none"/>
<path d="M470,255.2 L472.5,261 L480.1,266.8 L486.5,266" fill="none" stroke-width="0.8"/>
<!-- bolts & washers -->
<g stroke="#1e1e1e" stroke-width="0.9">
<path d="M478.68,224.29 L490.58,215.69 A2.7,2.7 0 0,0 487.42,211.31 L475.52,219.91 Z" fill="#a6a6a6"/>
<ellipse cx="477.1" cy="222.1" rx="4.4" ry="5.2" transform="rotate(-35 477.1 222.1)" fill="#8a8a8a"/>
<path d="M477.6,218.6 Q480.1,219.1 480.1,221.6" fill="none" stroke="#b8b8b8" stroke-width="0.8"/>
<path d="M478.93,257.82 L490.53,249.82 A2.7,2.7 0 0,0 487.47,245.38 L475.87,253.38 Z" fill="#a6a6a6"/>
<ellipse cx="477.4" cy="255.6" rx="4.4" ry="5.2" transform="rotate(-35 477.4 255.6)" fill="#8a8a8a"/>
<path d="M477.9,252.1 Q480.4,252.6 480.4,255.1" fill="none" stroke="#b8b8b8" stroke-width="0.8"/>
<path d="M478.98,291.96 L491.18,283.96 A2.7,2.7 0 0,0 488.22,279.44 L476.02,287.44 Z" fill="#a6a6a6"/>
<ellipse cx="477.5" cy="289.7" rx="4.4" ry="5.2" transform="rotate(-35 477.5 289.7)" fill="#8a8a8a"/>
<path d="M478.0,286.2 Q480.5,286.7 480.5,289.2" fill="none" stroke="#b8b8b8" stroke-width="0.8"/>
<ellipse cx="497.4" cy="205.4" rx="6" ry="7.2" transform="rotate(-25 497.4 205.4)" fill="#939393"/>
<ellipse cx="497.7" cy="205.4" rx="3.00" ry="3.60" transform="rotate(-25 497.4 205.4)" fill="none" stroke="#3a3a3a" stroke-width="0.6"/>
<ellipse cx="497.7" cy="205.4" rx="1.2" ry="2" transform="rotate(-30 497.4 205.4)" fill="#d4d4d4" stroke="#222" stroke-width="0.6"/>
<ellipse cx="497" cy="240.1" rx="6" ry="7" transform="rotate(-25 497 240.1)" fill="#939393"/>
<ellipse cx="497.3" cy="240.1" rx="3.00" ry="3.50" transform="rotate(-25 497 240.1)" fill="none" stroke="#3a3a3a" stroke-width="0.6"/>
<ellipse cx="497.3" cy="240.1" rx="1.2" ry="2" transform="rotate(-30 497 240.1)" fill="#d4d4d4" stroke="#222" stroke-width="0.6"/>
<ellipse cx="496.9" cy="274.6" rx="6.2" ry="6.6" transform="rotate(-25 496.9 274.6)" fill="#858585"/>
<ellipse cx="497.2" cy="274.6" rx="3.10" ry="3.30" transform="rotate(-25 496.9 274.6)" fill="none" stroke="#3a3a3a" stroke-width="0.6"/>
<ellipse cx="497.2" cy="274.6" rx="1.2" ry="2" transform="rotate(-30 496.9 274.6)" fill="#d4d4d4" stroke="#222" stroke-width="0.6"/>
</g>
<!-- plates 3 -->
<g stroke="#1e1e1e" stroke-width="1">
<path d="M400.5,73.5 Q400.5,71.5 402.5,72.3 L416.5,78 Q418,78.8 418,80.5 L418,160 Q418,162 416,161.2 L402,155 Q400.5,154.3 400.5,152.5 Z" fill="#5c5c5c"/>
<path d="M548.5,147.5 Q548.5,145.5 550.5,146.3 L564.5,152 Q566,152.8 566,154.5 L566,234 Q566,236 564,235.2 L550,229 Q548.5,228.3 548.5,226.5 Z" fill="#5c5c5c"/>
</g>
<g stroke="none"><path d="M406.5,82.2 A2.2,2.2 0 0,1 410.1,84.8" fill="none" stroke="#141414" stroke-width="1.1"/><circle cx="408.5" cy="83.2" r="0.9" fill="#d0d0d0"/><path d="M406.5,117.2 A2.2,2.2 0 0,1 410.1,119.8" fill="none" stroke="#141414" stroke-width="1.1"/><circle cx="408.5" cy="118.2" r="0.9" fill="#d0d0d0"/><path d="M406.5,151.2 A2.2,2.2 0 0,1 410.1,153.8" fill="none" stroke="#141414" stroke-width="1.1"/><circle cx="408.5" cy="152.2" r="0.9" fill="#d0d0d0"/><path d="M554.6,156.2 A2.2,2.2 0 0,1 558.2,158.8" fill="none" stroke="#141414" stroke-width="1.1"/><circle cx="556.6" cy="157.2" r="0.9" fill="#d0d0d0"/><path d="M554.6,190.7 A2.2,2.2 0 0,1 558.2,193.3" fill="none" stroke="#141414" stroke-width="1.1"/><circle cx="556.6" cy="191.7" r="0.9" fill="#d0d0d0"/><path d="M554.6,225.2 A2.2,2.2 0 0,1 558.2,227.8" fill="none" stroke="#141414" stroke-width="1.1"/><circle cx="556.6" cy="226.2" r="0.9" fill="#d0d0d0"/>
<path d="M402.5,73.6 L416.3,79.3" stroke="#b0b0b0" stroke-width="0.7" stroke-dasharray="1,1"/>
<path d="M550.5,147.6 L564.3,153.3" stroke="#b0b0b0" stroke-width="0.7" stroke-dasharray="1,1"/>
<path d="M401.8,155.5 L415.5,161.5" stroke="#808080" stroke-width="0.6"/>
<path d="M549.8,229.5 L563.5,235.5" stroke="#808080" stroke-width="0.6"/>
</g>
<!-- construction lines -->
<g stroke="#a8a8a8" stroke-width="0.7" fill="none">
<path d="M335.9,142 L408.5,83 M418.5,75 L430,66"/>
<path d="M326.2,184.2 L353.4,162.2 M381.4,140.2 L408.5,118 M418.5,109.8 L436,95.5"/>
<path d="M300.7,239.8 L344.5,204.2 M381.6,174 L408.5,152 M418.5,144 L434,131.5"/>
<path d="M497.4,205.4 L556.6,157 M566.5,149 L578,140"/>
<path d="M530.2,212.4 L556.6,191.5 M566.5,183.5 L584,169.5"/>
<path d="M530.2,246.9 L556.6,226 M566.5,218 L583,204.5"/>
</g>
<!-- leaders & labels -->
<g stroke="#9a9a9a" stroke-width="0.7" fill="none">
<line x1="375.4" y1="84.4" x2="366.7" y2="95.2"/>
<line x1="424.1" y1="57.4" x2="415" y2="68.2"/>
<line x1="523.2" y1="158.4" x2="513.7" y2="169.4"/>
<line x1="572" y1="131.3" x2="563.4" y2="142.3"/>
<polyline points="456,205.3 461.5,205.3 470.5,213.1"/>
<line x1="476.7" y1="190.6" x2="488.1" y2="198.3"/>
<polyline points="425,239 431.5,239 468.7,250.7"/>
<line x1="479.3" y1="295.5" x2="489.1" y2="321.7"/>
<line x1="500.6" y1="285.3" x2="509.2" y2="305.4"/>
<line x1="504.7" y1="245.5" x2="527.4" y2="293"/>
</g>
<g fill="#111">
<path d="M366.2,94.4 L368.2,96.2 L360.5,101.3 Z"/>
<path d="M414.4,67.4 L416.4,69.2 L410.7,73.9 Z"/>
<path d="M513,168.6 L515,170.4 L508.9,175.8 Z"/>
<path d="M562.7,141.5 L564.7,143.3 L558.1,148.2 Z"/>
<path d="M469.8,214.3 L471.4,212 L475.6,217.6 Z"/>
<path d="M487.2,199.6 L488.8,197.2 L491.9,201.5 Z"/>
<path d="M468.5,252 L469,249.4 L474.3,252 Z"/>
<path d="M503.2,246.5 L505.8,245.5 L504.2,244 Z"/>
<path d="M477.2,280 L480,280 L478.6,284.4 Z"/>
<path d="M499.6,284.5 L502,284 L498.2,278.5 Z"/>
</g>

<g fill="none" stroke="#a0a0a0" stroke-width="0.9" stroke-linecap="round" stroke-linejoin="round">
<path d="M 376.65,82.20 L 378.28,80.80 L 378.28,87.80"/>
<path d="M 425.60,54.45 Q 426.29,53.80 428.00,53.80 Q 430.06,53.80 430.06,55.42 Q 430.06,56.92 428.00,56.92 Q 430.40,56.92 430.40,58.61 Q 430.40,60.30 428.00,60.30 Q 426.29,60.30 425.60,59.65"/>
<path d="M 573.40,128.57 Q 574.16,127.90 576.05,127.90 Q 578.32,127.90 578.32,129.57 Q 578.32,131.12 576.05,131.12 Q 578.70,131.12 578.70,132.86 Q 578.70,134.60 576.05,134.60 Q 574.16,134.60 573.40,133.93"/>
<path d="M 523.85,155.85 Q 524.46,154.20 526.35,154.20 Q 529.00,154.20 529.00,156.30 Q 529.00,157.95 525.97,159.45 Q 523.70,160.57 523.70,161.70 L 529.00,161.70"/>
<path d="M 460.34,204.10 L 460.34,197.60 L 456.10,202.15 L 461.50,202.15"/>
<path d="M 478.12,182.20 L 473.96,182.20 L 473.58,184.97 Q 474.71,184.51 475.85,184.51 Q 478.50,184.51 478.50,186.69 Q 478.50,188.80 475.85,188.80 Q 473.96,188.80 473.20,188.01"/>
<path d="M 428.54,236.60 L 428.54,231.00 L 425.00,234.92 L 429.50,234.92"/>
<path d="M 534.62,291.00 L 529.36,291.00 L 528.88,294.23 Q 530.31,293.69 531.75,293.69 Q 535.10,293.69 535.10,296.24 Q 535.10,298.70 531.75,298.70 Q 529.36,298.70 528.40,297.78"/>
<path d="M 515.59,304.40 L 511.03,304.40 L 510.61,307.63 Q 511.86,307.10 513.10,307.10 Q 516.00,307.10 516.00,309.64 Q 516.00,312.10 513.10,312.10 Q 511.03,312.10 510.20,311.18"/>
<path d="M 493.87,327.40 L 493.87,320.70 L 490.10,325.39 L 494.90,325.39"/>
</g>
</svg>
</body></html>
